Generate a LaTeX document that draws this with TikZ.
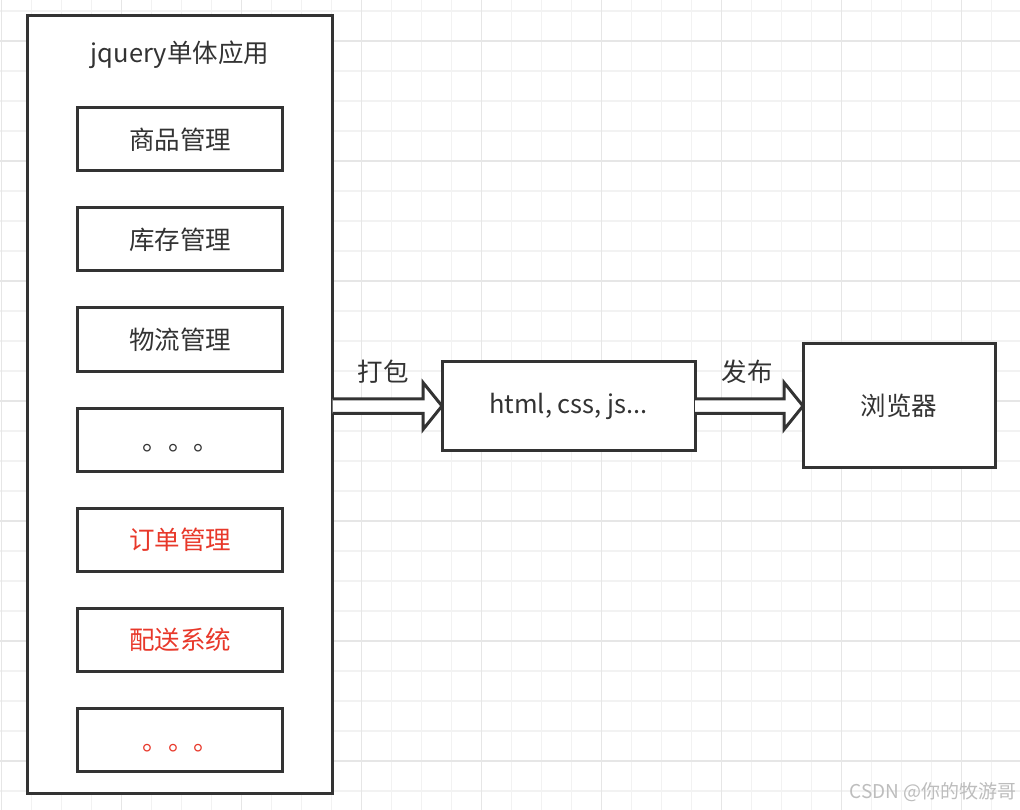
\documentclass[tikz,border=0pt]{standalone}
\usepackage{fontspec}
\setmainfont{Noto Sans CJK SC}
\usetikzlibrary{calc}
\definecolor{ink}{HTML}{333333}
\definecolor{redtxt}{HTML}{E8382A}
\definecolor{gridminor}{HTML}{F2F2F2}
\definecolor{gridmajor}{HTML}{E6E6E6}
\definecolor{wm}{HTML}{BDBDBD}
\tikzset{
  box/.style={draw=ink, line width=3pt, fill=white, outer sep=0pt, inner sep=0pt, text=ink, font=\fontsize{25.5}{30}\selectfont},
  modbox/.style={box, minimum width=205pt, minimum height=63pt},
  redbox/.style={modbox, text=redtxt},
  lbl/.style={text=ink, font=\fontsize{25.5}{30}\selectfont, inner sep=0pt},
  flexarrow/.style={draw=ink, fill=white, line width=3pt, line join=miter},
}
\begin{document}
\begin{tikzpicture}[x=1pt,y=-1pt]
\fill[white] (0,0) rectangle (1020,810);
\useasboundingbox (0,0) rectangle (1020,810);
% grid
\foreach \x in {1.7,31.7,...,1020} \draw[gridminor, line width=1.2pt] (\x,0) -- (\x,810);
\foreach \y in {11,41,...,810} \draw[gridminor, line width=1.2pt] (0,\y) -- (1020,\y);
\foreach \x in {1.7,121.7,...,1020} \draw[gridmajor, line width=1.5pt] (\x,0) -- (\x,810);
\foreach \y in {41,161,...,810} \draw[gridmajor, line width=1.5pt] (0,\y) -- (1020,\y);

% container
\node[box, minimum width=305pt, minimum height=777.5pt] (app) at (180,404.75) {};
\node[lbl] (title) at (180,55) {jquery单体应用};

\node[modbox] (m1) at (180,139.5) {商品管理};
\node[modbox] (m2) at (180,239.5) {库存管理};
\node[modbox] (m3) at (180,339.5) {物流管理};
\node[modbox] (m4) at (180,439.5) {};
\node[lbl] (d4) at (181,448) {。。。};
\node[redbox] (m5) at (180,539.5) {订单管理};
\node[redbox] (m6) at (180,639.5) {配送系统};
\node[redbox] (m7) at (180,739.5) {};
\node[lbl, text=redtxt] (d7) at (181,748) {。。。};

% html box
\node[box, minimum width=253pt, minimum height=89.5pt] (html) at (568.5,406) {html, css, js...};
% browser
\node[box, minimum width=192pt, minimum height=123.5pt] (browser) at (899,405.5) {浏览器};

% arrow 1
\coordinate (a1s) at (app.east |- html.west);
\coordinate (a1e) at (html.west);
\draw[flexarrow] ($(a1s)+(0,-7.25)$) -- ($(a1e)+(-19,-7.25)$) -- ($(a1e)+(-19,-23.5)$) -- (a1e) -- ($(a1e)+(-19,23.5)$) -- ($(a1e)+(-19,7.25)$) -- ($(a1s)+(0,7.25)$);
\node[lbl] (l1) at (383,372) {打包};

% arrow 2
\coordinate (a2s) at (html.east);
\coordinate (a2e) at (browser.west |- html.east);
\draw[flexarrow] ($(a2s)+(0,-7.25)$) -- ($(a2e)+(-19,-7.25)$) -- ($(a2e)+(-19,-23.5)$) -- (a2e) -- ($(a2e)+(-19,23.5)$) -- ($(a2e)+(-19,7.25)$) -- ($(a2s)+(0,7.25)$);
\node[lbl] (l2) at (747,372) {发布};

% watermark
\node[text=wm, font=\fontsize{19}{22}\selectfont, inner sep=0pt, anchor=east] (wmk) at (1017,792) {CSDN @你的牧游哥};
\end{tikzpicture}
\end{document}
